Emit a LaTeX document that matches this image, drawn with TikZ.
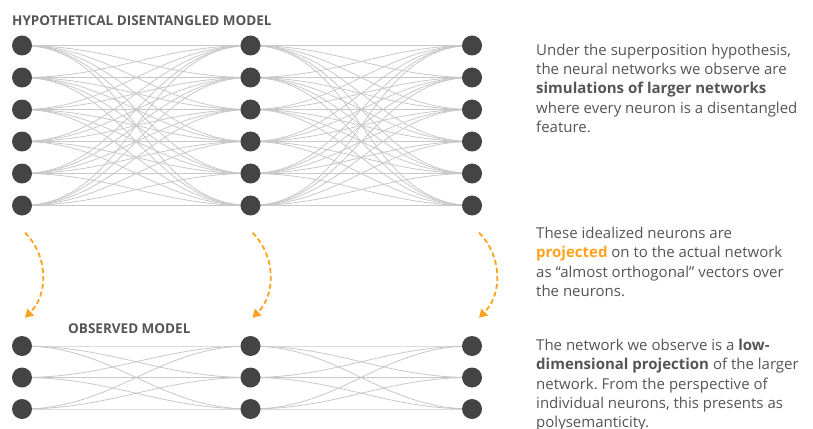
\documentclass[tikz,border=0pt]{standalone}
\usepackage{fontspec}
\setmainfont{Open Sans}
\usepackage{tikz}
\usetikzlibrary{arrows.meta}
\usetikzlibrary{backgrounds}
\definecolor{neurongray}{HTML}{444444}
\definecolor{wiregray}{HTML}{C8C8C8}
\definecolor{textgray}{HTML}{555555}
\definecolor{projorange}{HTML}{FFA21F}
\tikzset{
  neuron/.style={circle, fill=neurongray, minimum size=20pt, inner sep=0},
  wire/.style={draw=wiregray, line width=0.8pt},
  projarrow/.style={projorange, line width=1.8pt, dash pattern=on 5pt off 3pt,
    -{Triangle[length=8pt,width=9pt]}},
  heading/.style={textgray, font=\fontsize{13.5}{16}\selectfont\bfseries, inner sep=0, anchor=base west},
  blurb/.style={textgray, font=\fontsize{15}{19.2}\selectfont, align=left, inner sep=0, anchor=north west},
}
\frenchspacing

\begin{document}
\begin{tikzpicture}[x=1pt, y=-1pt]
  \useasboundingbox (0, 0) rectangle (813, 428);

  % hypothetical disentangled model
  \node[heading] at (12, 26) (toptitle) {HYPOTHETICAL DISENTANGLED MODEL};
  \foreach \i in {1, ..., 6} {
    \node[neuron] at (22, 45.5+32*\i-32) (h1-\i) {};
    \node[neuron] at (250.5, 45.5+32*\i-32) (h2-\i) {};
    \node[neuron] at (472, 45.5+32*\i-32) (h3-\i) {};
  }
  \begin{scope}[on background layer]
    \foreach \i in {1, ..., 6} {
      \foreach \j in {1, ..., 6} {
        \draw[wire] (h1-\i.center) to[out=0, in=180] (h2-\j.center);
        \draw[wire] (h2-\i.center) to[out=0, in=180] (h3-\j.center);
      }
    }
  \end{scope}

  % observed model
  \node[heading] at (68, 333) (bottomtitle) {OBSERVED MODEL};
  \foreach \i in {1, 2, 3} {
    \node[neuron] at (22, 346+31.5*\i-31.5) (o1-\i) {};
    \node[neuron] at (250.5, 346+31.5*\i-31.5) (o2-\i) {};
    \node[neuron] at (472, 346+31.5*\i-31.5) (o3-\i) {};
  }
  \begin{scope}[on background layer]
    \foreach \i in {1, 2, 3} {
      \foreach \j in {1, 2, 3} {
        \draw[wire] (o1-\i.center) to[out=0, in=180] (o2-\j.center);
        \draw[wire] (o2-\i.center) to[out=0, in=180] (o3-\j.center);
      }
    }
  \end{scope}

  % projection arrows
  \foreach \c/\dx in {1/3, 2/2, 3/7} {
    \coordinate (ps\c) at ([xshift=\dx pt, yshift=-17pt] h\c-6.south);
    \coordinate (pe\c) at ([xshift=\dx pt, yshift=18pt] o\c-1.north);
    \draw[projarrow] (ps\c) to[bend left=45] (pe\c);
  }

  % explanations
  \node[blurb] at (536, 44) (note1) {Under the superposition hypothesis,\\
    the neural networks we observe are\\
    \textbf{simulations of larger networks}\\
    where every neuron is a disentangled\\
    feature.};
  \node[blurb] at (536, 227) (note2) {These idealized neurons are\\
    \textcolor{projorange}{\textbf{projected}} on to the actual network\\
    as “almost orthogonal” vectors over\\
    the neurons.};
  \node[blurb] at (536, 339) (note3) {The network we observe is a \textbf{low-}\\
    \textbf{dimensional projection} of the larger\\
    network. From the perspective of\\
    individual neurons, this presents as\\
    polysemanticity.};
\end{tikzpicture}
\end{document}
